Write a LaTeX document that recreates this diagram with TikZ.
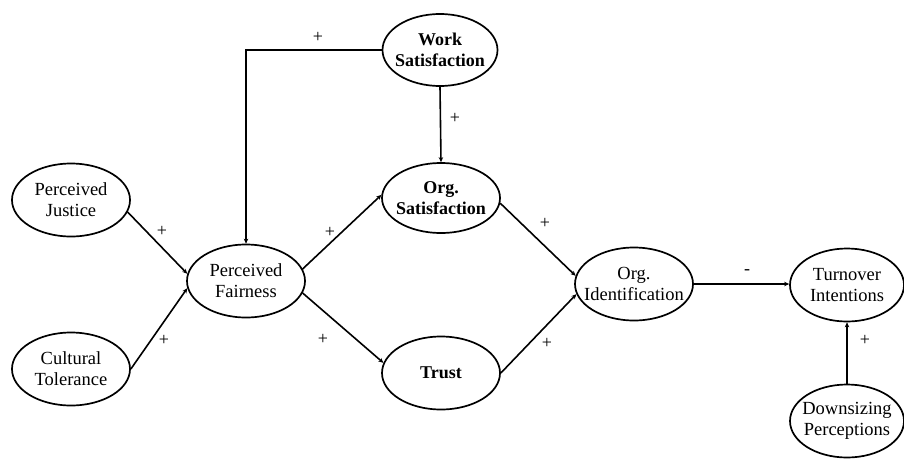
\documentclass[tikz,border=0pt]{standalone}
\usepackage{fontspec}
\setmainfont{Liberation Serif}
\usetikzlibrary{arrows.meta,shapes.geometric}
\begin{document}
\begin{tikzpicture}[x=1pt,y=-1pt,
  construct/.style={draw, line width=1.7pt, ellipse, minimum width=118pt, minimum height=73pt,
    inner sep=0pt, label={[caption]center:#1}},
  caption/.style={align=center, inner sep=0pt, font=\fontsize{18.5}{21}\selectfont},
  strongcaption/.style={align=center, inner sep=0pt, font=\fontsize{18}{21}\selectfont\bfseries},
  strong/.style={draw, line width=1.7pt, ellipse, minimum width=118pt, minimum height=73pt,
    inner sep=0pt, label={[strongcaption]center:#1}},
  path/.style={line width=1.6pt, -{Stealth[length=5pt,width=4.5pt]}},
  lbl/.style={font=\fontsize{18}{18}\selectfont, inner sep=0pt}]
\useasboundingbox (0,0) rectangle (904,458);

% constructs
\node[construct={Perceived\\Justice}] (PJ) at (71,200) {};
\node[construct={Cultural\\Tolerance}] (CT) at (71,369) {};
\node[construct={Perceived\\Fairness}] (PF) at (246,281) {};
\node[strong={Work\\Satisfaction}, minimum width=115pt, minimum height=72pt] (WS) at (440,50) {};
\node[strong={Org.\\Satisfaction}, minimum height=70pt] (OS) at (441,198) {};
\node[strong={Trust}] (TR) at (441,373) {};
\node[construct={Org.\\Identification}] (OI) at (634,284) {};
\node[construct={Turnover\\Intentions}, minimum width=114pt] (TO) at (847,285) {};
\node[construct={Downsizing\\Perceptions}, minimum width=114pt] (DP) at (847,421) {};

% paths
\draw[path] (PJ.-12) -- (PF.173);
\draw[path] (CT.east) -- (PF.187);
\draw[path] (WS.west) -| (PF.north);
\draw[path] (WS.south) -- (OS.north);
\draw[path] (PF.12) -- (OS.177);
\draw[path] (PF.-12) -- (TR.170);
\draw[path] (OS.-5) -- (OI.172);
\draw[path] (TR.east) -- (OI.190);
\draw[path] (OI.east) -- (OI.east -| TO.west);
\draw[path] (DP.north) -- (TO.south);

% signs
\node[lbl] (s1) at (162,231) {+};
\node[lbl] (s2) at (164,340) {+};
\node[lbl] (s3) at (318,37) {+};
\node[lbl] (s4) at (455,118) {+};
\node[lbl] (s5) at (330,232) {+};
\node[lbl] (s6) at (323,339) {+};
\node[lbl] (s7) at (545,223) {+};
\node[lbl] (s8) at (547,343) {+};
\node[lbl] (s9) at (747,272) {-};
\node[lbl] (s10) at (865,340) {+};
\end{tikzpicture}
\end{document}
